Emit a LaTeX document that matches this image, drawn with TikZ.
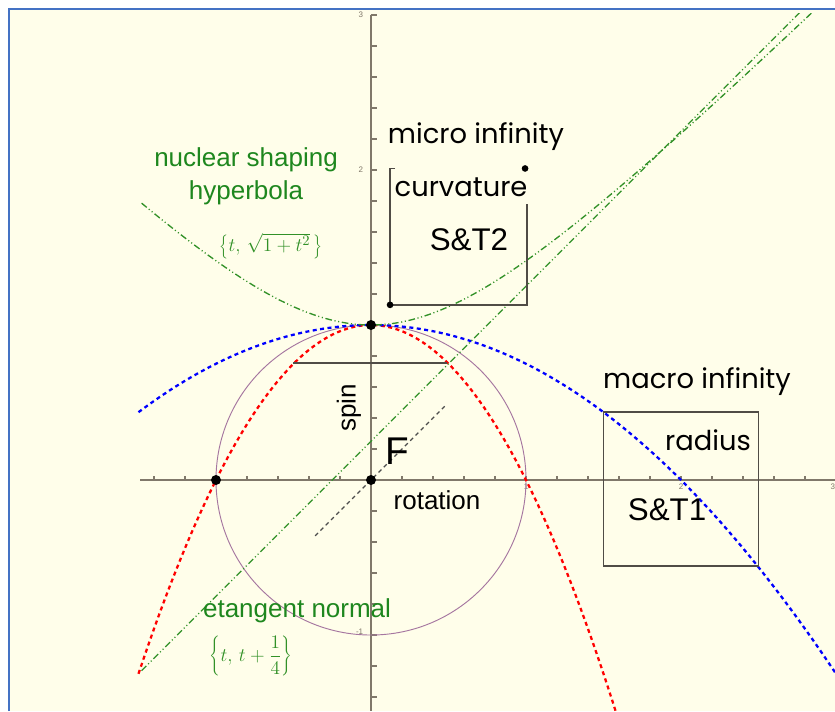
\documentclass[tikz,border=0pt]{standalone}
\usepackage{fontspec}
\setmainfont{Liberation Sans}
\newfontfamily\comicfont{Poppins}
\definecolor{paper}{RGB}{255,254,234}
\definecolor{frameblue}{RGB}{68,114,196}
\definecolor{axisgray}{RGB}{128,120,106}
\definecolor{boxgray}{RGB}{80,76,70}
\definecolor{hypgreen}{RGB}{50,145,40}
\definecolor{textgreen}{RGB}{30,135,30}
\definecolor{ringcol}{RGB}{165,118,160}
\begin{document}
\begin{tikzpicture}[x=116.25pt, y=116.25pt,
  arial/.style={font=\fontsize{19.5}{21}\selectfont},
  comic/.style={font=\comicfont\fontsize{20.5}{22}\selectfont},
  stlabel/.style={font=\fontsize{23.5}{25}\selectfont},
  tiny/.style={font=\fontsize{6}{7}\selectfont, axisgray},
  axisline/.style={axisgray, line width=0.9pt},
  boxline/.style={boxgray, line width=1.1pt},
  redpar/.style={red, line width=1.7pt, dash pattern=on 3pt off 2.6pt},
  bluepar/.style={blue, line width=1.7pt, dash pattern=on 3pt off 2.6pt},
  greencurve/.style={hypgreen, line width=1pt, dash pattern=on 5pt off 2pt on 0.8pt off 2pt on 0.8pt off 2pt},
  dot/.style={circle, fill=black, inner sep=0pt, minimum size=7.5pt},
  smalldot/.style={circle, fill=black, inner sep=0pt, minimum size=5pt}]
  % Unidade = 155 px da figura: circulo de raio 1, parabolas 1-t^2 e 1-t^2/4, hiperbole
  % sqrt(1+t^2) e a recta t+1/4; as curvas ficam cortadas a y=3 e ao fundo da folha.
  \useasboundingbox (-2.3935,-1.4903) rectangle (2.9935,3.0968);
  \fill[white] (-2.3935,-1.4903) rectangle (2.9935,3.0968);
  \fill[paper] (-2.335,-1.4903) rectangle (2.9935,3.039);
  \draw[frameblue, line width=1.5pt] (-2.335,-1.4903) -- (-2.335,3.039) -- (2.9935,3.039);
  % eixos e marcas
  \draw[axisline] (-1.49,0) -- (2.9935,0);
  \draw[axisline] (0,3.0) -- (0,-1.4903);
  \foreach \k in {-7,...,15} \draw[axisline] (0,\k/5) -- ++(4.5pt,0);
  \foreach \k in {-7,...,-1,1,2,...,14} \draw[axisline] (\k/5,0) -- ++(0,3pt);
  \node[tiny, anchor=east] (ythree) at (-0.02,3.0) {3};
  \node[tiny, anchor=east] (ytwo) at (-0.02,2.0) {2};
  \node[tiny, anchor=east] (ymone) at (-0.02,-0.98) {-1};
  \node[tiny] (xone) at (1.0,-0.045) {1};
  \node[tiny] (xtwo) at (2.0,-0.045) {2};
  \node[tiny] (xthree) at (2.98,-0.045) {3};
  % curvas
  \begin{scope}
    \clip (-1.6,-1.4903) rectangle (3.0,3.01);
    \draw[ringcol, line width=0.7pt] (0,0) circle (1);
    \draw[redpar] plot[domain=-1.5:1.6, samples=90] (\x,{1-(\x)*(\x)});
    \draw[bluepar] plot[domain=-1.5:3, samples=90] (\x,{1-(\x)*(\x)/4});
    \draw[greencurve] plot[domain=-1.48:2.9, samples=90] (\x,{sqrt(1+(\x)*(\x))});
    \draw[greencurve] plot[domain=-1.48:2.9, samples=2] (\x,{\x+0.25});
  \end{scope}
  \draw[black!70, line width=1pt, dash pattern=on 3pt off 2.6pt] (-0.36,-0.36) -- (0.48,0.48);
  \draw[boxline] (-0.503,0.755) -- (0.49,0.755);
  % caixas
  \draw[boxline] (0.155,2.01) -- (0.123,2.01) -- (0.123,1.13) -- (1.006,1.13) -- (1.006,1.78);
  \draw[boxline] (1.5,0.44) rectangle (2.5,-0.555);
  % pontos
  \node[dot] (top) at (0,1) {};
  \node[dot] (origin) at (0,0) {};
  \node[dot] (left) at (-1,0) {};
  \node[smalldot] (foot) at (0.123,1.13) {};
  \node[smalldot] (corner) at (0.994,2.01) {};
  % textos
  \node[comic] (micro) at (0.677,2.213) {micro infinity};
  \node[comic] (curv) at (0.581,1.890) {curvature};
  \node[stlabel] (stwo) at (0.632,1.548) {S\&T2};
  \node[arial, textgreen] (nuclear) at (-0.806,2.065) {nuclear shaping};
  \node[arial, textgreen] (hyper) at (-0.806,1.852) {hyperbola};
  \node[font=\fontsize{15.5}{17}\selectfont, hypgreen] (hypform) at (-0.645,1.51) {$\left\{t,\,\sqrt{1+t^{2}}\,\right\}$};
  \node[arial, rotate=90] (spin) at (-0.142,0.465) {spin};
  \node[font=\fontsize{29}{31}\selectfont] (focus) at (0.168,0.187) {F};
  \node[arial] (rot) at (0.426,-0.129) {rotation};
  \node[comic] (macro) at (2.103,0.632) {macro infinity};
  \node[comic] (rad) at (2.174,0.258) {radius};
  \node[stlabel] (sone) at (1.910,-0.194) {S\&T1};
  \node[arial, textgreen] (etan) at (-0.477,-0.845) {etangent normal};
  \node[font=\Large, hypgreen] (lineform) at (-0.774,-1.135) {$\left\{t,\,t+\displaystyle\frac{1}{4}\right\}$};
\end{tikzpicture}
\end{document}
